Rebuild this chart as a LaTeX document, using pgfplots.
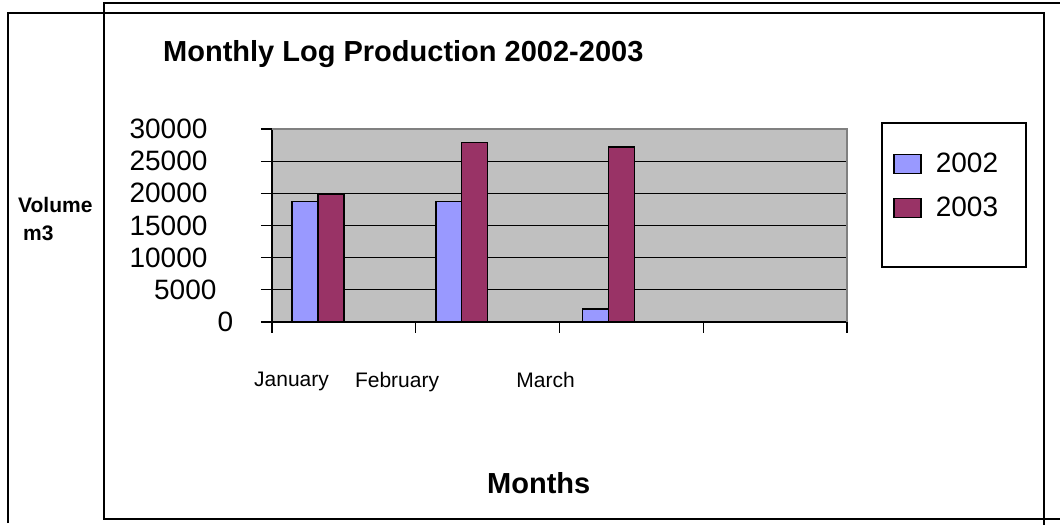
\documentclass[border=0pt]{standalone}
\usepackage{pgfplots}
\pgfplotsset{compat=1.18}
\usepackage{fontspec}
\setmainfont{Liberation Sans}
\definecolor{c2002}{HTML}{9999FF}
\definecolor{c2003}{HTML}{993366}
\definecolor{plotbg}{HTML}{C0C0C0}
\begin{document}
\begin{tikzpicture}[x=1pt,y=1pt]
\useasboundingbox (0,0) rectangle (1060,525);
\draw[line width=1.5pt] (1060,522) -- (104,522) -- (104,6) -- (1060,6);
\draw[line width=1.5pt] (8,2) -- (8,512) -- (1044,512) -- (1044,0);
\node[anchor=base west, inner sep=0pt, font=\fontsize{29}{34}\selectfont\bfseries] at (163,463) {Monthly Log Production 2002-2003};
\node[anchor=base west, inner sep=0pt, font=\fontsize{21}{25}\selectfont\bfseries] at (18,312) {Volume};
\node[anchor=base west, inner sep=0pt, font=\fontsize{21}{25}\selectfont\bfseries] at (23,284) {m3};
\node[anchor=base west, inner sep=0pt, font=\fontsize{29}{34}\selectfont\bfseries] at (487,32) {Months};
\begin{axis}[
  at={(272pt,203pt)}, anchor=south west,
  scale only axis, width=575pt, height=193pt,
  xmin=0, xmax=4, ymin=0, ymax=30000,
  axis background/.style={fill=plotbg},
  axis lines*=left, axis line style={-, line width=1.3pt, black},
  tick align=outside, major tick length=11pt,
  tick style={black, line width=1.3pt},
  ytick={0,5000,...,30000},
  yticklabels={{0\hspace*{-30pt}},{5000\hspace*{-9pt}},10000,15000,20000,25000,30000},
  yticklabel style={font=\fontsize{28}{32}\selectfont, anchor=east, xshift=-50pt},
  ymajorgrids, major grid style={black, line width=1.3pt},
  xtick={0,1,2,3,4},
  xticklabels={{},{},{},{},{}},
  extra x ticks={0.136,0.870,1.903},
  extra x tick labels={January,February,March},
  extra x tick style={major tick length=0pt, xticklabel style={font=\fontsize{21}{25}\selectfont, yshift=-47pt}},
  scaled y ticks=false,
  ybar=0pt, bar width=0.18,
  legend image code/.code={\draw[#1] (0pt,-9.5pt) rectangle (27pt,9.5pt); \path[draw=none,fill=none] (0pt,0pt) -- (40pt,0pt);},
  legend style={at={(1.080,0.885)}, anchor=north west, draw=none, fill=none,
    font=\fontsize{28}{32}\selectfont, inner sep=0pt, row sep=19pt},
  legend cell align=left,
  after end axis/.code={\draw[gray, line width=1.3pt] (rel axis cs:0,1) -- (rel axis cs:1,1) -- (rel axis cs:1,0);},
]
\addplot[fill=c2002, draw=black, line width=1.3pt] coordinates {(0.32,18700) (1.32,18700) (2.34,2000)};
\addlegendentry{2002}
\addplot[fill=c2003, draw=black, line width=1.3pt] coordinates {(0.32,19900) (1.32,27900) (2.34,27200)};
\addlegendentry{2003}
\end{axis}
\draw[line width=1.3pt] (882,258) rectangle (1026,402);
\end{tikzpicture}
\end{document}
